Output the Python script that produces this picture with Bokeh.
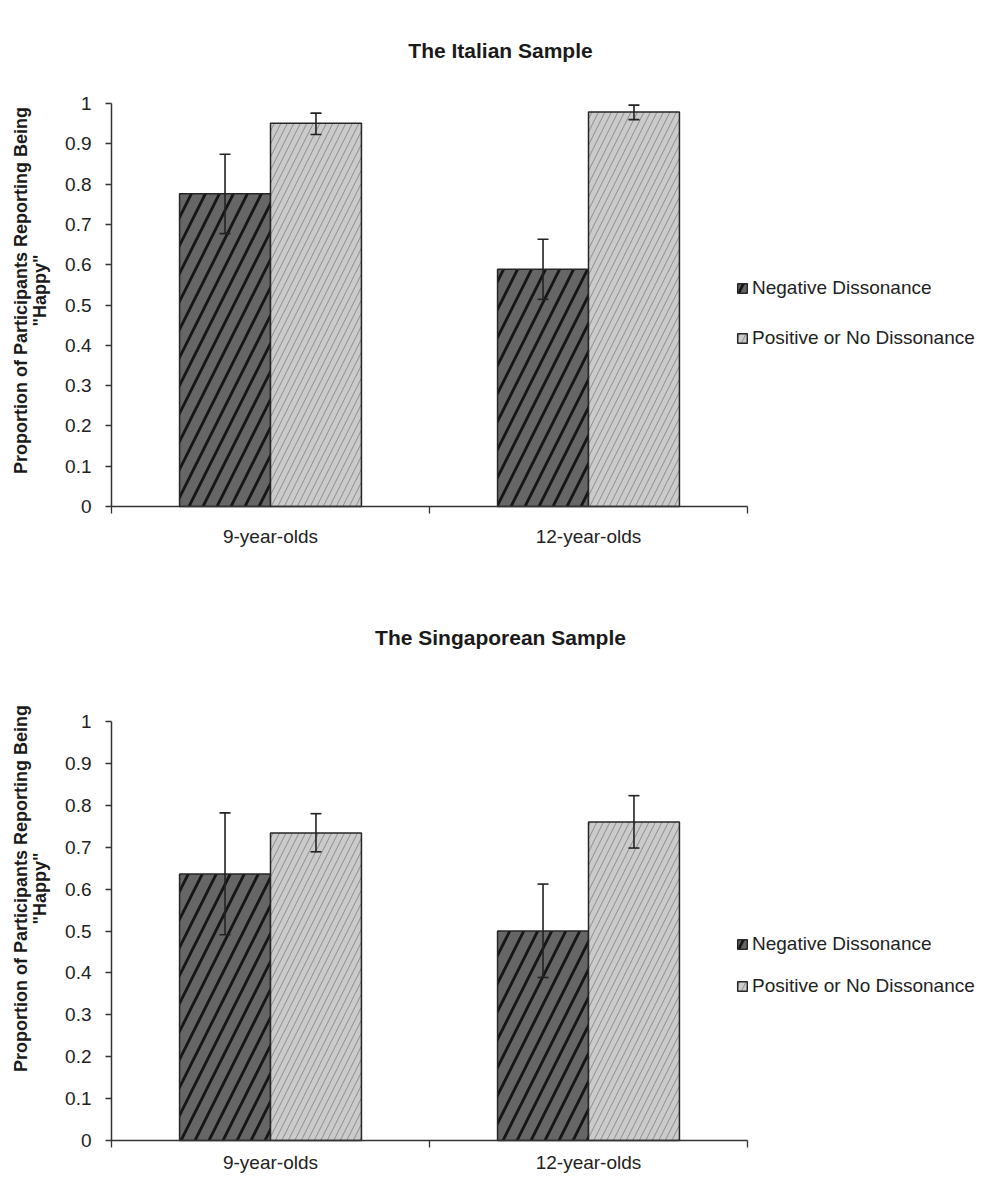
import numpy as np
from math import pi
from bokeh.plotting import figure
from bokeh.models import (ColumnDataSource, Whisker, TeeHead, FixedTicker, NumeralTickFormatter,
                          Legend, LegendItem, Label, Range1d)
from bokeh.layouts import column
from bokeh.embed import file_html
from bokeh.resources import INLINE

groups = ["9-year-olds", "12-year-olds"]
series = ["Negative Dissonance", "Positive or No Dissonance"]

# Italian sample
ita_neg = [0.776, 0.589]
ita_neg_lo = [0.677, 0.514]
ita_neg_hi = [0.874, 0.663]
ita_pos = [0.951, 0.979]
ita_pos_lo = [0.923, 0.960]
ita_pos_hi = [0.976, 0.996]

# Singaporean sample
sg_neg = [0.636, 0.500]
sg_neg_lo = [0.491, 0.389]
sg_neg_hi = [0.782, 0.612]
sg_pos = [0.734, 0.760]
sg_pos_lo = [0.689, 0.698]
sg_pos_hi = [0.780, 0.823]

y_ticks = [0, 0.1, 0.2, 0.3, 0.4, 0.5, 0.6, 0.7, 0.8, 0.9, 1.0]

FONT = "Liberation Sans"
BAR_W = 0.286
FIG_W = 986
FIG_H = 590
AX_LEFT = 111      # pixel column of the y axis
AX_RIGHT = 747     # pixel column of the end of the x axis


def make_chart(title, neg, neg_lo, neg_hi, pos, pos_lo, pos_hi, y0_px, y1_px,
               title_px, ylab_px, leg_bottom_px, leg_spacing, lab_standoff):
    """y0_px / y1_px: pixel rows (from figure top) of values 0 and 1."""
    n = len(groups)
    ppx = (AX_RIGHT - AX_LEFT) / n          # pixels per x unit
    ppy = (y0_px - y1_px)                   # pixels per y unit
    x_min = -AX_LEFT / ppx
    x_max = (FIG_W - AX_LEFT) / ppx
    y_min = -(FIG_H - y0_px) / ppy
    y_max = y0_px / ppy

    p = figure(width=FIG_W, height=FIG_H, output_backend="svg", toolbar_location=None,
               x_range=Range1d(x_min, x_max), y_range=Range1d(y_min, y_max),
               min_border=0, title_location=None)
    p.outline_line_color = None
    p.xgrid.visible = False
    p.ygrid.visible = False

    centers = np.arange(n) + 0.5
    s_neg = ColumnDataSource(dict(x=centers - BAR_W / 2, top=neg, lo=neg_lo, hi=neg_hi))
    s_pos = ColumnDataSource(dict(x=centers + BAR_W / 2, top=pos, lo=pos_lo, hi=pos_hi))

    r_neg = p.vbar(x="x", top="top", bottom=0, width=BAR_W, source=s_neg,
                   fill_color="#666666", line_color="#262626", line_width=1.5,
                   hatch_pattern="/", hatch_color="#161616", hatch_weight=2.8, hatch_scale=28)
    r_pos = p.vbar(x="x", top="top", bottom=0, width=BAR_W, source=s_pos,
                   fill_color="#cbcbcb", line_color="#262626", line_width=1.5,
                   hatch_pattern="/", hatch_color="#8c8c8c", hatch_weight=1.0, hatch_scale=13)

    for s in (s_neg, s_pos):
        w = Whisker(base="x", lower="lo", upper="hi", source=s, line_color="#222222",
                    line_width=1.6, level="overlay",
                    upper_head=TeeHead(size=11, line_color="#222222", line_width=1.6),
                    lower_head=TeeHead(size=11, line_color="#222222", line_width=1.6))
        p.add_layout(w)

    # x axis: boundary ticks as minor ticks, labels at group centres
    xa = p.xaxis[0]
    xa.fixed_location = 0
    xa.bounds = (0, n)
    xa.ticker = FixedTicker(ticks=list(centers), minor_ticks=list(range(n + 1)))
    xa.major_label_overrides = {float(c): g for c, g in zip(centers, groups)}
    xa.major_tick_line_color = None
    xa.major_tick_out = 0
    xa.major_tick_in = 0
    xa.minor_tick_out = 7
    xa.minor_tick_in = 0
    xa.minor_tick_line_color = "#333333"
    xa.minor_tick_line_width = 1.3
    xa.axis_line_color = "#333333"
    xa.axis_line_width = 1.5
    xa.major_label_text_font = FONT
    xa.major_label_text_font_size = "19px"
    xa.major_label_text_color = "#222222"
    xa.major_label_standoff = lab_standoff

    ya = p.yaxis[0]
    ya.fixed_location = 0
    ya.bounds = (0, 1)
    ya.ticker = FixedTicker(ticks=y_ticks)
    ya.formatter = NumeralTickFormatter(format="0.[0]")
    ya.minor_tick_line_color = None
    ya.major_tick_out = 6
    ya.major_tick_in = 0
    ya.major_tick_line_color = "#333333"
    ya.major_tick_line_width = 1.3
    ya.axis_line_color = "#333333"
    ya.axis_line_width = 1.5
    ya.major_label_text_font = FONT
    ya.major_label_text_font_size = "19px"
    ya.major_label_text_color = "#222222"
    ya.major_label_standoff = 14

    def px_x(px):
        return (px - AX_LEFT) / ppx

    def px_y(py):
        return (y0_px - py) / ppy

    # title
    p.add_layout(Label(x=px_x(500), y=px_y(title_px), text=title, text_font=FONT,
                       text_font_size="21px", text_font_style="bold", text_color="#1a1a1a",
                       text_align="center", text_baseline="middle"))
    # y axis label (two lines)
    for txt, cx in (("Proportion of Participants Reporting Being", 20), ('"Happy"', 39)):
        p.add_layout(Label(x=px_x(cx), y=px_y(ylab_px), text=txt, angle=pi / 2,
                           text_font=FONT, text_font_size="18px", text_font_style="bold",
                           text_color="#1a1a1a", text_align="center", text_baseline="middle"))

    legend = Legend(items=[LegendItem(label=series[0], renderers=[r_neg]),
                           LegendItem(label=series[1], renderers=[r_pos])],
                    location=(736, FIG_H - leg_bottom_px), margin=0, padding=0,
                    spacing=leg_spacing, glyph_width=12, glyph_height=12, label_standoff=4,
                    label_text_font=FONT, label_text_font_size="19px",
                    label_text_color="#222222", border_line_color=None,
                    background_fill_alpha=0)
    p.add_layout(legend, "center")
    return p


p1 = make_chart("The Italian Sample", ita_neg, ita_neg_lo, ita_neg_hi, ita_pos, ita_pos_lo, ita_pos_hi,
                y0_px=506, y1_px=103, title_px=50, ylab_px=290, leg_bottom_px=349,
                leg_spacing=28, lab_standoff=12)
p2 = make_chart("The Singaporean Sample", sg_neg, sg_neg_lo, sg_neg_hi, sg_pos, sg_pos_lo, sg_pos_hi,
                y0_px=1140 - FIG_H, y1_px=721 - FIG_H, title_px=637 - FIG_H, ylab_px=888 - FIG_H,
                leg_bottom_px=997 - FIG_H, leg_spacing=20, lab_standoff=4)

layout = column(p1, p2, spacing=0)
open("out.html", "w").write(file_html(layout, INLINE))
